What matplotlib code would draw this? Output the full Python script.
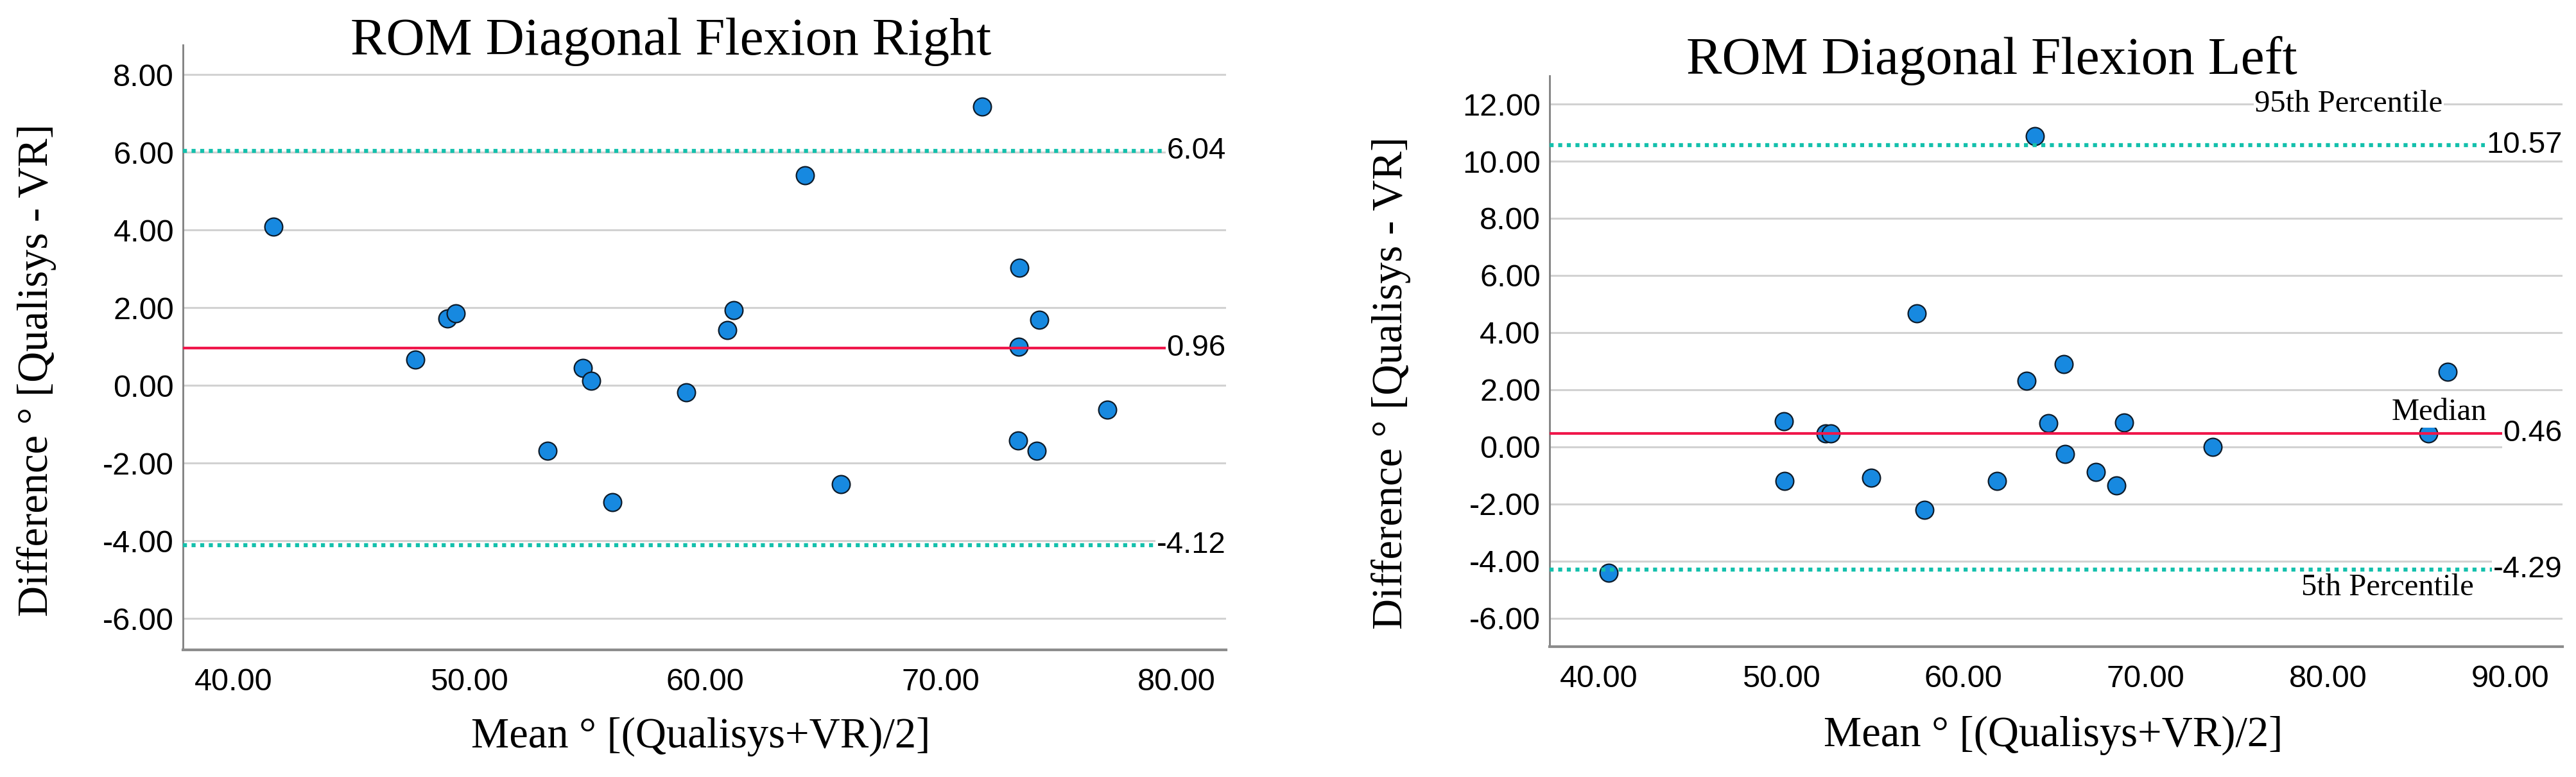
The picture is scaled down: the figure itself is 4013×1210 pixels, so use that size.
"""Bland-Altman style plots: ROM diagonal flexion, Qualisys vs VR (right / left)."""
import matplotlib
matplotlib.use("Agg")
import matplotlib.pyplot as plt

plt.rcParams["axes.unicode_minus"] = False

SERIF = ["Liberation Serif", "DejaVu Serif"]
SANS = ["Liberation Sans", "DejaVu Sans"]

DOT = "#1789e0"
DOT_EDGE = "#0d1b2a"
TEAL = "#14c0ac"
RED = "#f0174b"
GRID = "#d2d2d2"

# --- ROM Diagonal Flexion Right ---
right_mean = [41.70, 47.72, 49.07, 49.43, 53.32, 54.81, 55.17, 56.08, 59.21, 60.94,
              61.22, 64.24, 65.77, 71.77, 73.35, 74.17, 73.30, 77.06, 73.27, 74.06]
right_diff = [4.08, 0.67, 1.72, 1.86, -1.69, 0.44, 0.12, -3.01, -0.18, 1.43,
              1.93, 5.40, -2.55, 7.17, 3.02, 1.68, 1.00, -0.63, -1.42, -1.69]
right_upper, right_median, right_lower = 6.04, 0.96, -4.12
right_xticks = [40, 50, 60, 70, 80]
right_yticks = [-6, -4, -2, 0, 2, 4, 6, 8]

# --- ROM Diagonal Flexion Left ---
left_mean = [40.55, 50.15, 50.19, 52.45, 52.71, 54.96, 57.45, 57.87, 61.85, 63.45,
             63.93, 64.66, 65.51, 65.59, 67.25, 68.38, 68.82, 73.68, 85.49, 86.55]
left_diff = [-4.40, 0.89, -1.20, 0.47, 0.46, -1.07, 4.67, -2.20, -1.20, 2.31,
             10.87, 0.83, 2.89, -0.24, -0.88, -1.34, 0.85, 0.00, 0.47, 2.63]
left_upper, left_median, left_lower = 10.57, 0.46, -4.29
left_xticks = [40, 50, 60, 70, 80, 90]
left_yticks = [-6, -4, -2, 0, 2, 4, 6, 8, 10, 12]

XLABEL = "Mean ° [(Qualisys+VR)/2]"
YLABEL = "Difference ° [Qualisys - VR]"


def draw_panel(ax, mean, diff, upper, median, lower, xticks, yticks, xlim, ylim,
               xlab_pos, ylab_pos):
    ax.set_xlim(*xlim)
    ax.set_ylim(*ylim)
    ax.set_xticks(xticks)
    ax.set_yticks(yticks)
    ax.set_xticklabels([f"{v:.2f}" for v in xticks], family=SANS, fontsize=35)
    ax.set_yticklabels([f"{v:.2f}" for v in yticks], family=SANS, fontsize=35)
    ax.tick_params(axis="both", length=0)
    ax.tick_params(axis="x", pad=20)
    ax.tick_params(axis="y", pad=10)

    for s in ("top", "right"):
        ax.spines[s].set_visible(False)
    ax.spines["left"].set_color("#808080")
    ax.spines["left"].set_linewidth(2.0)
    ax.spines["bottom"].set_color("#8c8c8c")
    ax.spines["bottom"].set_linewidth(3.0)

    for y in yticks:
        ax.axhline(y, color=GRID, lw=2.2, zorder=1)

    ax.scatter(mean, diff, s=400, c=DOT, edgecolors=DOT_EDGE, linewidths=1.6, zorder=3)

    dotted = (0, (1, 1.15))
    ax.axhline(upper, color=TEAL, lw=4.5, ls=dotted, zorder=4)
    ax.axhline(lower, color=TEAL, lw=4.5, ls=dotted, zorder=4)
    ax.axhline(median, color=RED, lw=3.0, zorder=4)

    trans = ax.get_yaxis_transform()
    for val in (upper, median, lower):
        ax.text(1.0, val, f"{val:.2f}", transform=trans, ha="right", va="center",
                family=SANS, fontsize=34, zorder=6,
                bbox=dict(fc="white", ec="none", pad=1.5))

    ax.text(xlab_pos[0], xlab_pos[1], XLABEL, transform=ax.transAxes,
            ha="center", va="center", family=SERIF, fontsize=48)
    ax.text(ylab_pos[0], ylab_pos[1], YLABEL, transform=ax.transAxes, rotation=90,
            ha="center", va="center", family=SERIF, fontsize=48)


fig = plt.figure(figsize=(40.13, 12.10), dpi=100)
fig.patch.set_facecolor("white")

ax_r = fig.add_axes([0.0710, 0.1636, 0.4049, 0.7785])
draw_panel(ax_r, right_mean, right_diff, right_upper, right_median, right_lower,
           right_xticks, right_yticks, (37.85, 82.1), (-6.81, 8.76),
           (0.4963, -0.1433), (-0.140, 0.462))

ax_l = fig.add_axes([0.6015, 0.1678, 0.3932, 0.7347])
draw_panel(ax_l, left_mean, left_diff, left_upper, left_median, left_lower,
           left_xticks, left_yticks, (37.3, 92.85), (-6.99, 12.99),
           (0.4975, -0.156), (-0.1565, 0.462))

# extra annotations on the left-side plot
note_kw = dict(ha="center", va="center", family=SERIF, fontsize=35, zorder=6,
               bbox=dict(fc="white", ec="none", pad=1.0))
ax_l.text(81.13, 12.0, "95th Percentile", **note_kw)
ax_l.text(86.1, 1.21, "Median", **note_kw)
ax_l.text(83.27, -4.92, "5th Percentile", **note_kw)

fig.text(1045 / 4013, 1 - 85 / 1210, "ROM Diagonal Flexion Right",
         ha="center", va="baseline", family=SERIF, fontsize=60)
fig.text(3103 / 4013, 1 - 115 / 1210, "ROM Diagonal Flexion Left",
         ha="center", va="baseline", family=SERIF, fontsize=60)

fig.savefig("out.png", dpi=100, facecolor="white")
